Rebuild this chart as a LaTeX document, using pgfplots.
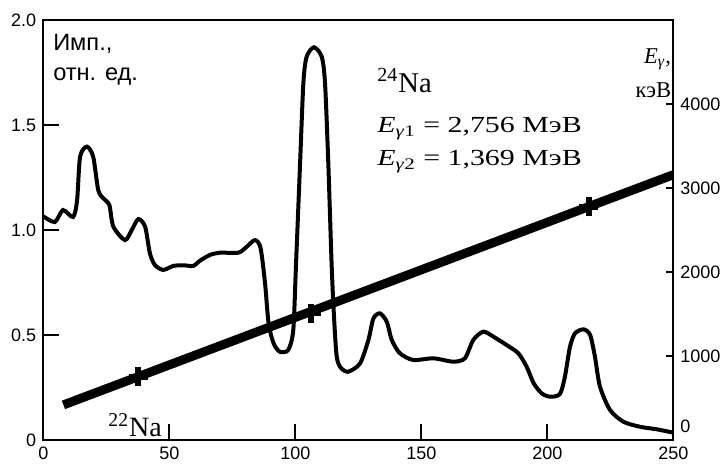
\documentclass[border=0pt]{standalone}
\usepackage{pgfplots}
\pgfplotsset{compat=1.18}
\usepackage{fontspec}
\setmainfont{Liberation Sans}
\newfontfamily\serif{Liberation Serif}
\newfontfamily\serifwide{Liberation Serif}[FakeStretch=1.3]

\pgfplotstableread{
x y
0.0 1.065
4.6 1.038
7.8 1.095
11.8 1.062
13.4 1.14
14.6 1.349
17.3 1.397
19.8 1.349
21.8 1.19
23.8 1.151
26.2 1.119
27.8 1.016
32.4 0.952
35.1 1.0
37.7 1.052
40.4 1.016
42.3 0.889
44.3 0.833
47.6 0.81
51.6 0.829
55.6 0.832
59.5 0.829
62.2 0.854
66.1 0.881
70.1 0.892
77.4 0.892
80.7 0.92
84.0 0.952
86.2 0.915
88.0 0.746
89.4 0.556
91.4 0.46
93.9 0.42
97.2 0.429
99.2 0.524
100.3 0.841
101.9 1.318
103.2 1.699
104.5 1.825
107.4 1.87
110.5 1.825
111.8 1.699
113.1 1.318
114.4 0.841
115.3 0.600
116.4 0.400
118.0 0.345
121.0 0.325
125.7 0.365
129.0 0.476
131.0 0.579
133.6 0.603
136.3 0.563
138.3 0.476
141.5 0.413
146.8 0.381
154.8 0.389
162.7 0.373
167.3 0.389
170.6 0.476
174.6 0.516
178.6 0.492
183.9 0.452
188.5 0.413
191.8 0.349
194.6 0.27
197.8 0.222
201.1 0.206
205.0 0.219
207.0 0.302
209.0 0.444
211.0 0.508
214.4 0.527
217.0 0.5
218.9 0.397
220.9 0.254
224.9 0.143
230.2 0.087
236.8 0.063
243.4 0.051
250.0 0.035
}\spectrum

\begin{document}
\begin{tikzpicture}
\pgfplotsset{
  every axis/.append style={
    scale only axis, width=315pt, height=210pt,
    xmin=0, xmax=250,
    tick align=inside,
    axis line style={line width=0.9pt},
    every tick/.style={line width=0.9pt, black},
    tick label style={font=\fontsize{9}{10}\selectfont},
    /pgf/number format/assume math mode=true,
  }
}
% pulse-height spectrum
\begin{axis}[
  ymin=0, ymax=2,
  xtick={0,50,...,250},
  ytick={0,0.5,1,1.5,2},
  yticklabels={0,0.5,1.0,1.5,2.0},
  xtick pos=bottom, ytick pos=left,
  major tick length=8pt,
]
\addplot[line width=2pt, smooth, tension=0.45] table[x=x,y=y] {\spectrum};

\node[anchor=base west, inner sep=0, font=\fontsize{11.8}{13}\selectfont]
  at (axis cs:3.8,1.857) {Имп.,};
\node[anchor=base west, inner sep=0, font=\fontsize{11.8}{13}\selectfont]
  at (axis cs:3.8,1.714) {отн. ед.};

\node[anchor=base west, inner sep=0, font=\fontsize{14.3}{16}\selectfont\serif]
  at (axis cs:132.4,1.657) {\textsuperscript{24}Na};
\node[anchor=base west, inner sep=0, font=\fontsize{11.5}{13}\selectfont\serifwide]
  at (axis cs:132.4,1.462) {\textit{E}\textsubscript{\textit{γ}1} = 2,756 МэВ};
\node[anchor=base west, inner sep=0, font=\fontsize{11.5}{13}\selectfont\serifwide]
  at (axis cs:132.4,1.306) {\textit{E}\textsubscript{\textit{γ}2} = 1,369 МэВ};

\node[anchor=base east, inner sep=0, font=\fontsize{11.3}{13}\selectfont\serif]
  at (axis cs:249.3,1.795) {\textit{E}\textsubscript{\textit{γ}},};
\node[anchor=base east, inner sep=0, font=\fontsize{11.3}{13}\selectfont\serif]
  at (axis cs:249.3,1.633) {кэВ};

\node[anchor=base west, inner sep=0, font=\fontsize{14}{16}\selectfont\serif]
  at (axis cs:25.7,0.016) {\textsuperscript{22}Na};
\end{axis}

% energy calibration, keV
\begin{axis}[
  ymin=0, ymax=5000,
  axis y line*=right,
  axis x line=none,
  ytick={1000,2000,3000,4000},
  extra y ticks={0},
  extra y tick style={yticklabel style={yshift=7pt}},
  major tick length=3.5pt,
  yticklabel style={/pgf/number format/1000 sep={}},
]
\addplot[line width=4.5pt] coordinates {(8,418) (250,3158)};
\addplot[only marks, mark=+, mark size=4.75pt, mark options={line width=3pt}]
  coordinates {(37.7,754) (106.3,1508) (216.4,2777)};
\end{axis}

\pgfresetboundingbox
\path[use as bounding box] ([shift={(-21.65pt,-13pt)}]current axis.south west)
  rectangle ([shift={(25.35pt,10pt)}]current axis.north east);
\end{tikzpicture}
\end{document}
